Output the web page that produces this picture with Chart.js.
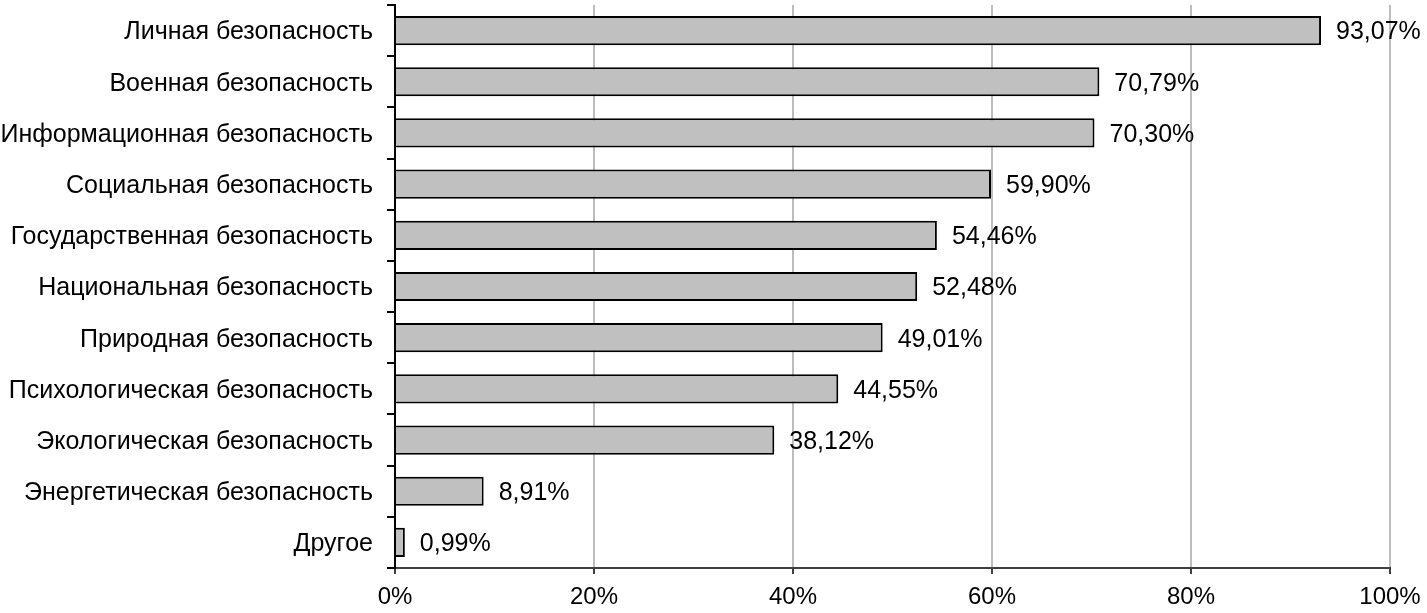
<!DOCTYPE html>
<html>
<head>
<meta charset="utf-8">
<script src="https://cdn.jsdelivr.net/npm/chart.js@4/dist/chart.umd.min.js"></script>
<style>
  body { margin: 0; background: #fff; }
</style>
</head>
<body>
<canvas id="myChart" width="1427" height="613"></canvas>
<script>
const categories = [
  'Личная безопасность',
  'Военная безопасность',
  'Информационная безопасность',
  'Социальная безопасность',
  'Государственная безопасность',
  'Национальная безопасность',
  'Природная безопасность',
  'Психологическая безопасность',
  'Экологическая безопасность',
  'Энергетическая безопасность',
  'Другое'
];
const values = [93.07, 70.79, 70.30, 59.90, 54.46, 52.48, 49.01, 44.55, 38.12, 8.91, 0.99];
const xTicks = [0, 20, 40, 60, 80, 100];

const FONT = 'Liberation Sans, Arial, sans-serif';

// draw the "93,07%" labels next to bars
const valueLabels = {
  id: 'valueLabels',
  afterDatasetsDraw(chart) {
    const ctx = chart.ctx;
    const meta = chart.getDatasetMeta(0);
    ctx.save();
    ctx.font = '25px ' + FONT;
    ctx.fillStyle = '#000';
    ctx.textAlign = 'left';
    ctx.textBaseline = 'middle';
    meta.data.forEach((bar, i) => {
      const txt = values[i].toFixed(2).replace('.', ',') + '%';
      ctx.fillText(txt, bar.x + 15, bar.y + 2);
    });
    ctx.restore();
  }
};

const ctx = document.getElementById('myChart');
const myChart = new Chart(ctx, {
  type: 'bar',
  data: {
    labels: categories,
    datasets: [{
      data: values,
      backgroundColor: '#c0c0c0',
      borderColor: '#000',
      borderWidth: 2,
      barPercentage: 0.57,
      categoryPercentage: 1
    }]
  },
  options: {
    indexAxis: 'y',
    responsive: false,
    animation: false,
    layout: { padding: { top: 5, right: 37, left: 0, bottom: 0 } },
    plugins: {
      legend: { display: false },
      tooltip: { enabled: false }
    },
    scales: {
      x: {
        min: 0,
        max: 100,
        afterBuildTicks: scale => { scale.ticks = xTicks.map(v => ({ value: v })); },
        afterFit: scale => {
          scale.height = 45;
          scale.paddingLeft = 0;
          scale.paddingRight = 0;
        },
        grid: {
          color: '#bdbdbd',
          lineWidth: 2,
          tickColor: '#404040',
          tickLength: 6
        },
        border: { color: '#404040', width: 2 },
        ticks: {
          padding: 9,
          color: '#000',
          font: { family: FONT, size: 24 },
          callback: v => v + '%'
        }
      },
      y: {
        afterFit: scale => {
          scale.width = 395;
          scale.paddingTop = 0;
          scale.paddingBottom = 0;
        },
        grid: {
          drawOnChartArea: false,
          offset: true,
          color: '#000',
          tickLength: 8,
          lineWidth: 2
        },
        border: { color: '#000', width: 2 },
        ticks: {
          padding: 14,
          labelOffset: 2,
          color: '#000',
          font: { family: FONT, size: 25 }
        }
      }
    }
  },
  plugins: [valueLabels]
});
</script>
</body>
</html>
